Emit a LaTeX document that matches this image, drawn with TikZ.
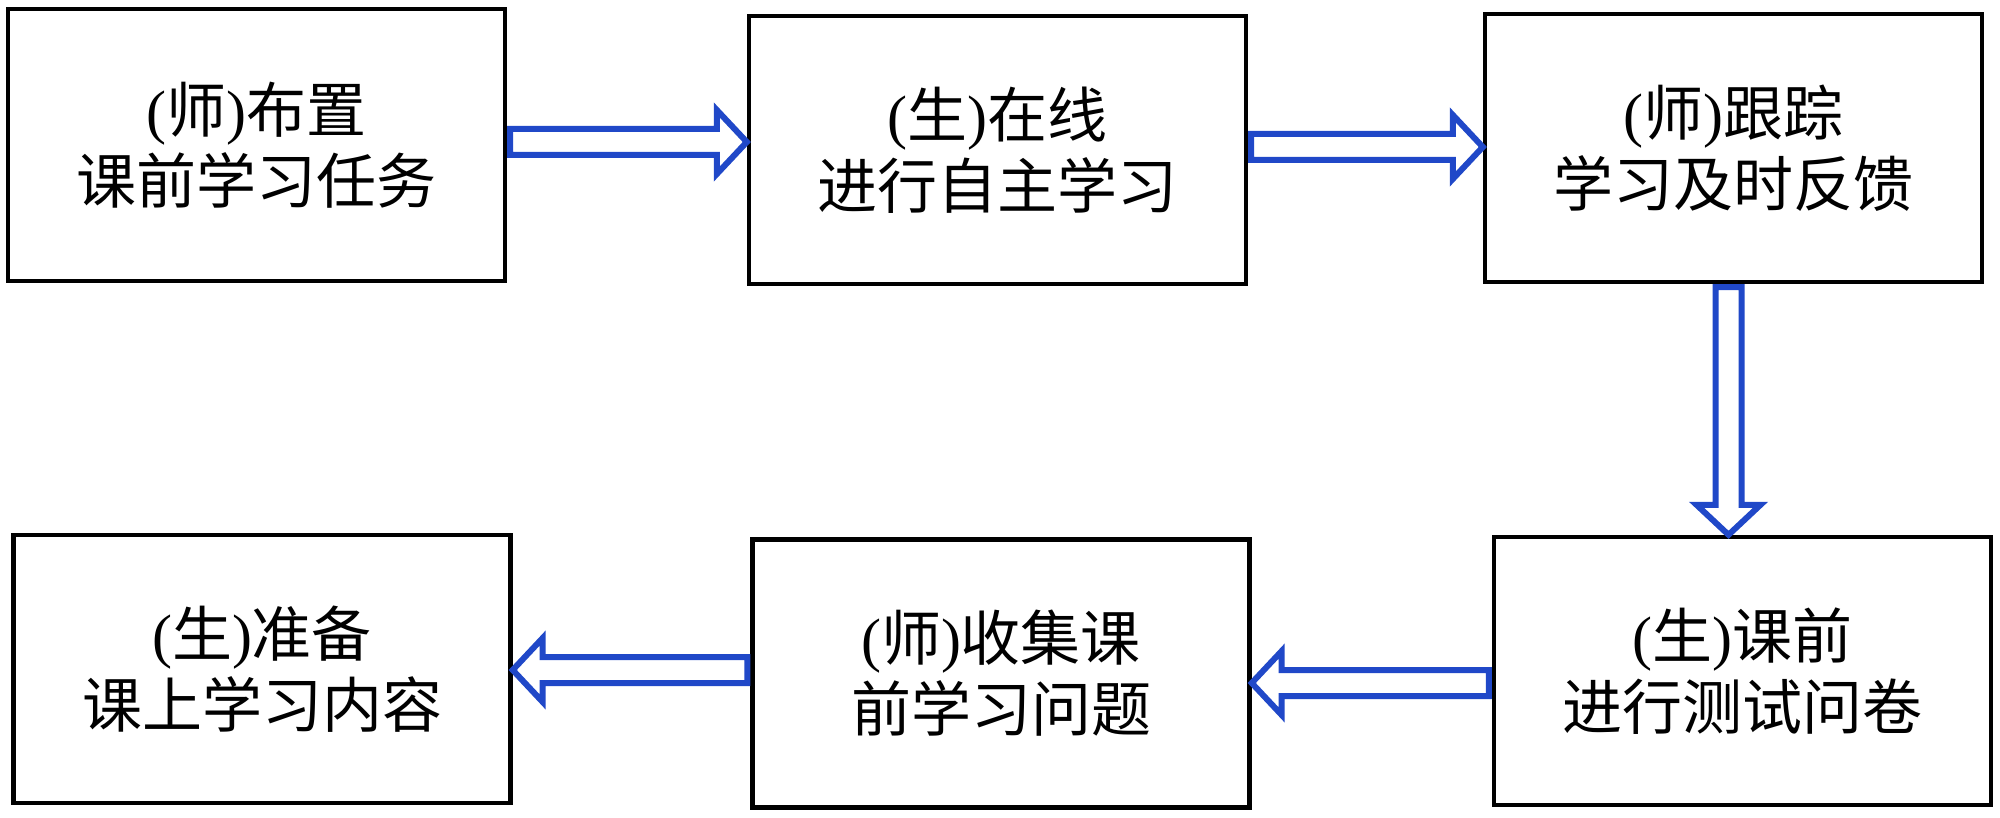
\documentclass[tikz,border=0pt]{standalone}
\usepackage{fontspec}
\setmainfont{Liberation Serif}
\newfontfamily\cjk{Noto Sans CJK SC}
\usetikzlibrary{calc}
\definecolor{arrowblue}{RGB}{32,72,200}
\newcommand\zh[1]{{\cjk #1}}
\newcommand\blockarrow[3]{%
  \coordinate (#3hb) at ($(#2)!15pt!(#1)$);
  \draw[harrow] ($(#1)!6.5pt!90:(#2)$) -- ($(#3hb)!6.5pt!90:(#2)$) -- ($(#3hb)!16pt!90:(#2)$) -- (#2)
    -- ($(#3hb)!16pt!-90:(#2)$) -- ($(#3hb)!6.5pt!-90:(#2)$) -- ($(#1)!6.5pt!-90:(#2)$) -- cycle;}
\begin{document}
\begin{tikzpicture}[x=0.5pt,y=-0.5pt,
  box/.style={draw, line width=2.2pt, minimum width=248.5pt, minimum height=134pt,
    align=center, font=\fontsize{30pt}{35.5pt}\selectfont, inner sep=0pt},
  harrow/.style={draw=arrowblue, line width=3pt, line join=miter, fill=white}]
\useasboundingbox (0,0) rectangle (2000,818);
\fill[white] (0,0) rectangle (2000,818);
\node[box, minimum height=136pt] (b1) at (256.5,145) {(\zh{师})\zh{布置}\\\zh{课前学习任务}};
\node[box] (b2) at (997.5,150) {(\zh{生})\zh{在线}\\\zh{进行自主学习}};
\node[box] (b3) at (1733.5,148) {(\zh{师})\zh{跟踪}\\\zh{学习及时反馈}};
\node[box] (b4) at (262,669) {(\zh{生})\zh{准备}\\\zh{课上学习内容}};
\node[box] (b5) at (1001,673.5) {(\zh{师})\zh{收集课}\\\zh{前学习问题}};
\node[box] (b6) at (1742.5,671) {(\zh{生})\zh{课前}\\\zh{进行测试问卷}};
\coordinate (a1s) at ($(b1.east)+(3,-3)$);
\coordinate (a1e) at (b2.west |- a1s);
\coordinate (a2s) at ($(b2.east)+(3,-3)$);
\coordinate (a2e) at (b3.west |- a2s);
\coordinate (a3s) at ($(b3.south)+(-5,3)$);
\coordinate (a3e) at (a3s |- b6.north);
\coordinate (a4s) at ($(b5.west)+(-3,-3.5)$);
\coordinate (a4e) at (b4.east |- a4s);
\coordinate (a5s) at ($(b6.west)+(-3,12)$);
\coordinate (a5e) at (b5.east |- a5s);
\blockarrow{a1s}{a1e}{a1}
\blockarrow{a2s}{a2e}{a2}
\blockarrow{a3s}{a3e}{a3}
\blockarrow{a4s}{a4e}{a4}
\blockarrow{a5s}{a5e}{a5}
\end{tikzpicture}
\end{document}
